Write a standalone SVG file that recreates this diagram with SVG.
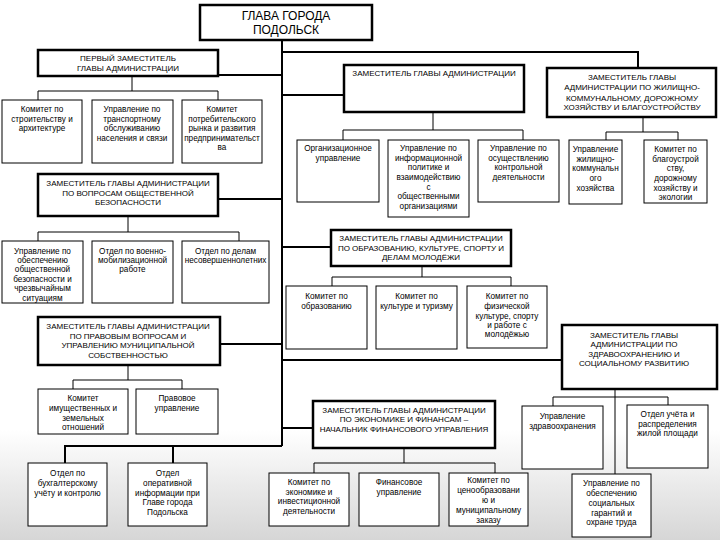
<svg xmlns="http://www.w3.org/2000/svg" width="720" height="540" viewBox="0 0 720 540">
<defs>
<linearGradient id="bg" x1="0" y1="0" x2="0" y2="1">
<stop offset="0" stop-color="#ffffff"/>
<stop offset="1" stop-color="#d6d6d6"/>
</linearGradient>
<style>
.dep{fill:#fff;stroke:#000;stroke-width:2.5}
.sub{fill:#fff;stroke:#000;stroke-width:1}
.thick{fill:none;stroke:#000;stroke-width:2}
.thin{fill:none;stroke:#000;stroke-width:1}
text{font-family:"Liberation Sans",Arial,sans-serif;fill:#000;text-anchor:middle}
.c{font-size:8px}
.l{font-size:8.2px}
.h{font-size:12px}
</style>
</defs>
<rect x="0" y="0" width="720" height="540" fill="#fff"/>
<rect x="0" y="430" width="720" height="110" fill="url(#bg)"/>
<g id="connectors">
<path class="thick" d="M282 40V446M282 52H638V68M218 75H282M282 95H344M218 199H282M282 247H331M220 344H282M282 360H562M282 428H313M65 463V446H282M173 446V463"/>
<path class="thin" d="M132 76V91M38 100V91H218V100M433 112V130M343 140V130H523V140M643 117V132M606 140V132H678V140M128 216V232M38 241V232H239V241M422 266V277M332 286V277H511V286M128 365V380M73 389V380H182V389M404 448V463M314 473V463H495V473M615 389V474M553 406V397H668V405"/>
</g>
<g id="glava"><rect class="dep" x="200" y="5" width="172" height="35"/><text class="h"><tspan x="286" y="20">ГЛАВА ГОРОДА</tspan><tspan x="286" y="34">ПОДОЛЬСК</tspan></text></g>
<g id="perviy"><rect class="dep" x="38" y="50" width="180" height="26"/><text class="c"><tspan x="128" y="61">ПЕРВЫЙ ЗАМЕСТИТЕЛЬ</tspan><tspan x="128" y="71">ГЛАВЫ АДМИНИСТРАЦИИ</tspan></text></g>
<g id="stroit"><rect class="sub" x="2" y="100" width="80" height="63"/><text class="l"><tspan x="42" y="112">Комитет по</tspan><tspan x="42" y="121.5">строительству и</tspan><tspan x="42" y="131">архитектуре</tspan></text></g>
<g id="transp"><rect class="sub" x="92" y="100" width="81" height="63"/><text class="l"><tspan x="132" y="112">Управление по</tspan><tspan x="132" y="121.5">транспортному</tspan><tspan x="132" y="131">обслуживанию</tspan><tspan x="132" y="140.5">населения и связи</tspan></text></g>
<g id="potreb"><rect class="sub" x="182" y="100" width="80" height="63"/><text class="l"><tspan x="222" y="112">Комитет</tspan><tspan x="222" y="121.5">потребительского</tspan><tspan x="222" y="131">рынка и развития</tspan><tspan x="222" y="140.5">предпринимательст</tspan><tspan x="222" y="150">ва</tspan></text></g>
<g id="zam"><rect class="dep" x="344" y="65" width="180" height="47"/><text class="c"><tspan x="434" y="76">ЗАМЕСТИТЕЛЬ ГЛАВЫ АДМИНИСТРАЦИИ</tspan></text></g>
<g id="org"><rect class="sub" x="297" y="140" width="82" height="62"/><text class="l"><tspan x="338" y="151">Организационное</tspan><tspan x="338" y="161">управление</tspan></text></g>
<g id="inform"><rect class="sub" x="388" y="140" width="81" height="77"/><text class="l"><tspan x="428.5" y="151">Управление по</tspan><tspan x="428.5" y="160.5">информационной</tspan><tspan x="428.5" y="170">политике и</tspan><tspan x="428.5" y="179.5">взаимодействию</tspan><tspan x="428.5" y="189.5">с</tspan><tspan x="428.5" y="199">общественными</tspan><tspan x="428.5" y="209">организациями</tspan></text></g>
<g id="kontrol"><rect class="sub" x="478" y="140" width="81" height="62"/><text class="l"><tspan x="518.5" y="151">Управление по</tspan><tspan x="518.5" y="160.5">осуществлению</tspan><tspan x="518.5" y="170">контрольной</tspan><tspan x="518.5" y="180">деятельности</tspan></text></g>
<g id="zhkh"><rect class="dep" x="547" y="68" width="169" height="49"/><text class="c"><tspan x="632" y="80">ЗАМЕСТИТЕЛЬ ГЛАВЫ</tspan><tspan x="632" y="90">АДМИНИСТРАЦИИ ПО ЖИЛИЩНО-</tspan><tspan x="632" y="100.5">КОММУНАЛЬНОМУ, ДОРОЖНОМУ</tspan><tspan x="632" y="110">ХОЗЯЙСТВУ И БЛАГОУСТРОЙСТВУ</tspan></text></g>
<g id="upr-zhkh"><rect class="sub" x="569" y="140" width="53" height="64"/><text class="l"><tspan x="595.5" y="152">Управление</tspan><tspan x="595.5" y="162">жилищно-</tspan><tspan x="595.5" y="171">коммунальн</tspan><tspan x="595.5" y="181">ого</tspan><tspan x="595.5" y="191">хозяйства</tspan></text></g>
<g id="blag"><rect class="sub" x="644" y="140" width="63" height="63"/><text class="l"><tspan x="675.5" y="152">Комитет по</tspan><tspan x="675.5" y="162">благоустрой</tspan><tspan x="675.5" y="171">ству,</tspan><tspan x="675.5" y="181">дорожному</tspan><tspan x="675.5" y="191">хозяйству и</tspan><tspan x="675.5" y="200">экологии</tspan></text></g>
<g id="bezop"><rect class="dep" x="38" y="174" width="180" height="42"/><text class="c"><tspan x="128" y="186">ЗАМЕСТИТЕЛЬ ГЛАВЫ АДМИНИСТРАЦИИ</tspan><tspan x="128" y="196">ПО ВОПРОСАМ ОБЩЕСТВЕННОЙ</tspan><tspan x="128" y="205">БЕЗОПАСНОСТИ</tspan></text></g>
<g id="upr-bez"><rect class="sub" x="2" y="241" width="81" height="62"/><text class="l"><tspan x="42.5" y="254">Управление по</tspan><tspan x="42.5" y="263">обеспечению</tspan><tspan x="42.5" y="272">общественной</tspan><tspan x="42.5" y="282">безопасности и</tspan><tspan x="42.5" y="291">чрезвычайным</tspan><tspan x="42.5" y="301">ситуациям</tspan></text></g>
<g id="voen"><rect class="sub" x="92" y="241" width="81" height="62"/><text class="l"><tspan x="132.5" y="254">Отдел по военно-</tspan><tspan x="132.5" y="263">мобилизационной</tspan><tspan x="132.5" y="272">работе</tspan></text></g>
<g id="nesov"><rect class="sub" x="182" y="241" width="87" height="62"/><text class="l"><tspan x="225.5" y="254">Отдел по делам</tspan><tspan x="225.5" y="263">несовершеннолетних</tspan></text></g>
<g id="obraz"><rect class="dep" x="331" y="230" width="180" height="36"/><text class="c"><tspan x="421" y="241">ЗАМЕСТИТЕЛЬ ГЛАВЫ АДМИНИСТРАЦИИ</tspan><tspan x="421" y="251">ПО ОБРАЗОВАНИЮ, КУЛЬТУРЕ, СПОРТУ И</tspan><tspan x="421" y="260">ДЕЛАМ МОЛОДЁЖИ</tspan></text></g>
<g id="kom-obr"><rect class="sub" x="286" y="286" width="81" height="63"/><text class="l"><tspan x="326.5" y="299">Комитет по</tspan><tspan x="326.5" y="309">образованию</tspan></text></g>
<g id="kult"><rect class="sub" x="376" y="286" width="81" height="63"/><text class="l"><tspan x="416.5" y="299">Комитет по</tspan><tspan x="416.5" y="309">культуре и туризму</tspan></text></g>
<g id="fiz"><rect class="sub" x="467" y="286" width="80" height="62"/><text class="l"><tspan x="507" y="299">Комитет по</tspan><tspan x="507" y="309">физической</tspan><tspan x="507" y="319">культуре, спорту</tspan><tspan x="507" y="328">и работе с</tspan><tspan x="507" y="337">молодёжью</tspan></text></g>
<g id="pravo"><rect class="dep" x="38" y="317" width="182" height="48"/><text class="c"><tspan x="128" y="329">ЗАМЕСТИТЕЛЬ ГЛАВЫ АДМИНИСТРАЦИИ</tspan><tspan x="128" y="339">ПО ПРАВОВЫМ ВОПРОСАМ И</tspan><tspan x="128" y="348">УПРАВЛЕНИЮ МУНИЦИПАЛЬНОЙ</tspan><tspan x="128" y="358">СОБСТВЕННОСТЬЮ</tspan></text></g>
<g id="imush"><rect class="sub" x="38" y="389" width="90" height="45"/><text class="l"><tspan x="83" y="401">Комитет</tspan><tspan x="83" y="411">имущественных и</tspan><tspan x="83" y="421">земельных</tspan><tspan x="83" y="430">отношений</tspan></text></g>
<g id="prav-upr"><rect class="sub" x="136" y="389" width="82" height="45"/><text class="l"><tspan x="177" y="401">Правовое</tspan><tspan x="177" y="411">управление</tspan></text></g>
<g id="buh"><rect class="sub" x="28" y="463" width="79" height="63"/><text class="l"><tspan x="67.5" y="476">Отдел по</tspan><tspan x="67.5" y="486">бухгалтерскому</tspan><tspan x="67.5" y="496">учёту и контролю</tspan></text></g>
<g id="oper"><rect class="sub" x="128" y="463" width="79" height="63"/><text class="l"><tspan x="167.5" y="476">Отдел</tspan><tspan x="167.5" y="486">оперативной</tspan><tspan x="167.5" y="496">информации при</tspan><tspan x="167.5" y="505">Главе города</tspan><tspan x="167.5" y="515">Подольска</tspan></text></g>
<g id="zdrav"><rect class="dep" x="562" y="325" width="155" height="64"/><text class="c"><tspan x="634" y="338">ЗАМЕСТИТЕЛЬ ГЛАВЫ</tspan><tspan x="634" y="347">АДМИНИСТРАЦИИ ПО</tspan><tspan x="634" y="357">ЗДРАВООХРАНЕНИЮ И</tspan><tspan x="634" y="366">СОЦИАЛЬНОМУ РАЗВИТИЮ</tspan></text></g>
<g id="upr-zdrav"><rect class="sub" x="522" y="406" width="81" height="63"/><text class="l"><tspan x="562.5" y="419">Управление</tspan><tspan x="562.5" y="429">здравоохранения</tspan></text></g>
<g id="uchet"><rect class="sub" x="627" y="405" width="81" height="63"/><text class="l"><tspan x="667.5" y="417">Отдел учёта и</tspan><tspan x="667.5" y="427">распределения</tspan><tspan x="667.5" y="436">жилой площади</tspan></text></g>
<g id="socgar"><rect class="sub" x="572" y="474" width="79" height="63"/><text class="l"><tspan x="611.5" y="486">Управление по</tspan><tspan x="611.5" y="496">обеспечению</tspan><tspan x="611.5" y="506">социальных</tspan><tspan x="611.5" y="516">гарантий и</tspan><tspan x="611.5" y="525">охране труда</tspan></text></g>
<g id="ekon"><rect class="dep" x="313" y="401" width="182" height="47"/><text class="c"><tspan x="404" y="413">ЗАМЕСТИТЕЛЬ ГЛАВЫ АДМИНИСТРАЦИИ</tspan><tspan x="404" y="422">ПО ЭКОНОМИКЕ И ФИНАНСАМ –</tspan><tspan x="404" y="432">НАЧАЛЬНИК ФИНАНСОВОГО УПРАВЛЕНИЯ</tspan></text></g>
<g id="kom-ek"><rect class="sub" x="269" y="473" width="80" height="53"/><text class="l"><tspan x="309" y="485">Комитет по</tspan><tspan x="309" y="495">экономике и</tspan><tspan x="309" y="504">инвестиционной</tspan><tspan x="309" y="514">деятельности</tspan></text></g>
<g id="fin"><rect class="sub" x="359" y="473" width="80" height="53"/><text class="l"><tspan x="399" y="485">Финансовое</tspan><tspan x="399" y="495">управление</tspan></text></g>
<g id="ceno"><rect class="sub" x="449" y="473" width="79" height="53"/><text class="l"><tspan x="488.5" y="483">Комитет по</tspan><tspan x="488.5" y="493">ценообразовани</tspan><tspan x="488.5" y="503">ю и</tspan><tspan x="488.5" y="513">муниципальному</tspan><tspan x="488.5" y="523">заказу</tspan></text></g>
</svg>
